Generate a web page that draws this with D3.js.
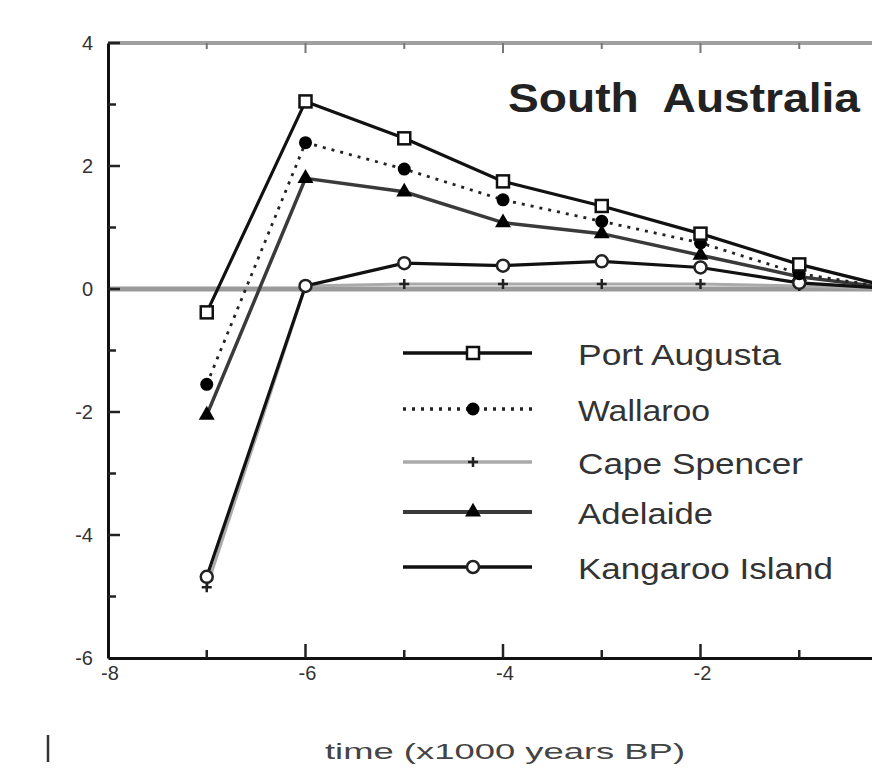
<!DOCTYPE html>
<html><head><meta charset="utf-8">
<script src="https://cdn.jsdelivr.net/npm/d3@7"></script>
<style>
html,body{margin:0;padding:0;background:#fff;overflow:hidden}
svg{display:block;font-family:"Liberation Sans",Arial,sans-serif}
</style></head>
<body>
<svg id="c" width="872" height="774"></svg>
<script>
// ---- data ----
const times = [-7, -6, -5, -4, -3, -2, -1, 0];
const portAugusta   = [-0.38, 3.05, 2.45, 1.75, 1.35, 0.9, 0.4, 0];
const wallaroo      = [-1.55, 2.38, 1.95, 1.45, 1.1, 0.75, 0.25, 0];
const capeSpencer   = [-4.85, 0.05, 0.08, 0.08, 0.08, 0.08, 0.05, 0];
const adelaide      = [-2.05, 1.8, 1.58, 1.08, 0.9, 0.55, 0.2, 0];
const kangarooIsland= [-4.68, 0.05, 0.42, 0.38, 0.45, 0.35, 0.1, 0];
const seriesNames = ["Port Augusta", "Wallaroo", "Cape Spencer", "Adelaide", "Kangaroo Island"];
const seriesValues = [portAugusta, wallaroo, capeSpencer, adelaide, kangarooIsland];
const xTickLabels = [-8, -6, -4, -2];
const yTickLabels = [4, 2, 0, -2, -4, -6];
const chartTitle = "South  Australia";
const xTitle = "time (x1000 years BP)";

// ---- styles ----
const styles = {
  "Port Augusta":    {stroke:"#111", width:3.2, dash:null, marker:"square", fill:"#fff"},
  "Wallaroo":        {stroke:"#222", width:2.8, dash:"3,6", marker:"circle", fill:"#000"},
  "Cape Spencer":    {stroke:"#aaa", width:3, dash:null, marker:"plus", fill:"#000"},
  "Adelaide":        {stroke:"#3a3a3a", width:3.5, dash:null, marker:"diamond", fill:"#000"},
  "Kangaroo Island": {stroke:"#111", width:3.2, dash:null, marker:"ocircle", fill:"#fff"}
};

const svg = d3.select("#c");
const x = d3.scaleLinear().domain([-8, 0]).range([108, 898]);
const y = d3.scaleLinear().domain([-6, 4]).range([658, 43]);

// zero reference line
svg.append("line").attr("x1", x(-8)).attr("x2", 872).attr("y1", y(0)).attr("y2", y(0))
  .attr("stroke", "#9a9a9a").attr("stroke-width", 5);

// top border
svg.append("line").attr("x1", x(-8)).attr("x2", 872).attr("y1", y(4)).attr("y2", y(4))
  .attr("stroke", "#a0a0a0").attr("stroke-width", 4);

// axes
const yAxis = d3.axisLeft(y).tickValues(d3.range(-6, 5, 1)).tickSize(0).tickFormat("");
const xAxis = d3.axisBottom(x).tickValues(d3.range(-8, 1, 1)).tickSize(0).tickFormat("");
svg.append("g").attr("transform", `translate(${x(-8)},0)`).call(yAxis)
  .call(g => g.select(".domain").attr("stroke", "#111").attr("stroke-width", 3));
svg.append("g").attr("transform", `translate(0,${y(-6)})`).call(xAxis)
  .call(g => g.select(".domain").attr("stroke", "#111").attr("stroke-width", 3));

// inward ticks
d3.range(-5, 5, 1).forEach(v => {
  const len = v % 2 === 0 ? 12 : 8;
  svg.append("line").attr("x1", x(-8)).attr("x2", x(-8) + len).attr("y1", y(v)).attr("y2", y(v))
    .attr("stroke", "#222").attr("stroke-width", 2.5);
});
d3.range(-7, 0, 1).forEach(v => {
  const len = v % 2 === 0 ? 14 : 8;
  svg.append("line").attr("x1", x(v)).attr("x2", x(v)).attr("y1", y(-6)).attr("y2", y(-6) - len)
    .attr("stroke", "#222").attr("stroke-width", 2.5);
  svg.append("line").attr("x1", x(v)).attr("x2", x(v)).attr("y1", y(4)).attr("y2", y(4) + (v % 2 === 0 ? 10 : 6))
    .attr("stroke", "#777").attr("stroke-width", 2);
});

// tick labels
svg.append("g").selectAll("text").data(yTickLabels).join("text")
  .attr("x", x(-8) - 15).attr("y", d => y(d) + 7)
  .attr("text-anchor", "end").attr("font-size", 20).attr("fill", "#333")
  .text(d => d);
svg.append("g").selectAll("text").data(xTickLabels).join("text")
  .attr("x", d => x(d) + 2).attr("y", y(-6) + 22)
  .attr("text-anchor", "middle").attr("font-size", 20).attr("fill", "#333")
  .text(d => d);

// axis title
svg.append("text").attr("x", 505).attr("y", 759).attr("text-anchor", "middle")
  .attr("font-size", 22).attr("fill", "#444")
  .attr("textLength", 360).attr("lengthAdjust", "spacingAndGlyphs").text(xTitle);
svg.append("line").attr("x1", 48).attr("x2", 48).attr("y1", 735).attr("y2", 762)
  .attr("stroke", "#333").attr("stroke-width", 2.5);

// chart title
svg.append("text").attr("x", 508).attr("y", 112).attr("font-size", 40).attr("font-weight", "bold")
  .attr("fill", "#222").attr("textLength", 352).attr("lengthAdjust", "spacingAndGlyphs")
  .attr("xml:space", "preserve").style("white-space", "pre").text(chartTitle);

// lines
const line = d3.line().x((d, i) => x(times[i])).y(d => y(d));
const order = [2, 3, 4, 1, 0];
function marker(g, type, cx, cy, st) {
  if (type === "square") {
    g.append("rect").attr("x", cx - 6).attr("y", cy - 6).attr("width", 12).attr("height", 12)
      .attr("fill", st.fill).attr("stroke", "#111").attr("stroke-width", 2.5);
  } else if (type === "circle") {
    g.append("circle").attr("cx", cx).attr("cy", cy).attr("r", 6.5).attr("fill", "#000");
  } else if (type === "ocircle") {
    g.append("circle").attr("cx", cx).attr("cy", cy).attr("r", 6).attr("fill", "#fff")
      .attr("stroke", "#222").attr("stroke-width", 2.5);
  } else if (type === "diamond") {
    g.append("path").attr("d", d3.symbol(d3.symbolTriangle, 110)()).attr("transform", `translate(${cx},${cy})`)
      .attr("fill", "#000");
  } else if (type === "plus") {
    g.append("path").attr("d", `M${cx - 5},${cy}H${cx + 5}M${cx},${cy - 5}V${cy + 5}`)
      .attr("stroke", "#222").attr("stroke-width", 2.5);
  }
}
order.forEach(k => {
  const name = seriesNames[k], st = styles[name], vals = seriesValues[k];
  const g = svg.append("g");
  g.append("path").datum(vals).attr("d", line).attr("fill", "none")
    .attr("stroke", st.stroke).attr("stroke-width", st.width)
    .attr("stroke-dasharray", st.dash);
  vals.forEach((v, i) => { if (times[i] < 0) marker(g, st.marker, x(times[i]), y(v), st); });
});

// legend
const legY = [353, 409, 462, 512, 567];
const legW = [203, 132, 225, 135, 255];
const lg = svg.append("g");
seriesNames.forEach((name, i) => {
  const st = styles[name];
  lg.append("line").attr("x1", 403).attr("x2", 532).attr("y1", legY[i]).attr("y2", legY[i])
    .attr("stroke", st.stroke).attr("stroke-width", st.width + 0.5).attr("stroke-dasharray", st.dash);
  marker(lg, st.marker, 473, legY[i], st);
  lg.append("text").attr("x", 578).attr("y", legY[i] + 12).attr("font-size", 30).attr("fill", "#333")
    .attr("textLength", legW[i]).attr("lengthAdjust", "spacingAndGlyphs").text(name);
});
</script>
</body></html>
